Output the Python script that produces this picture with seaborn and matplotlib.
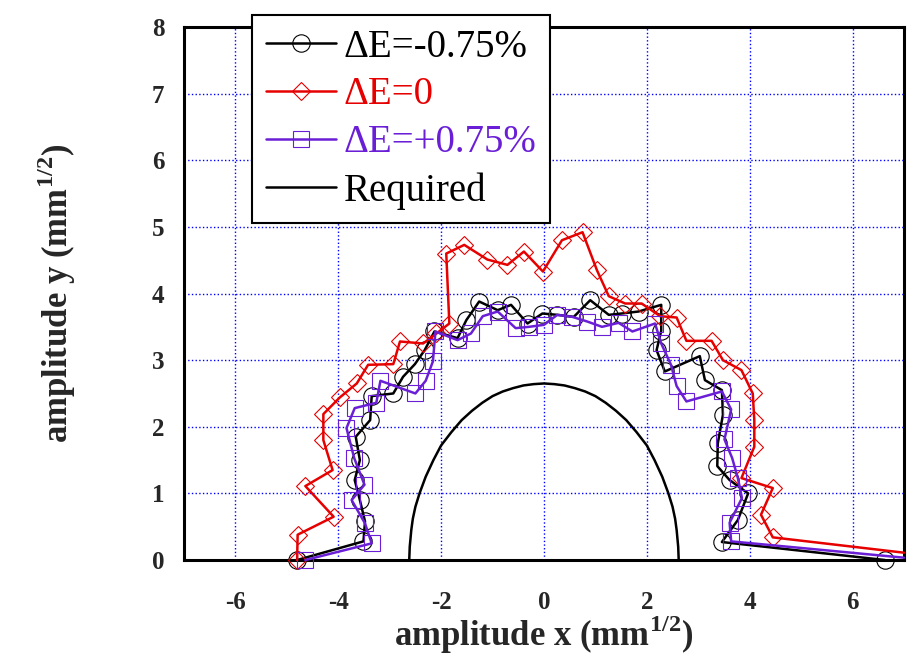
import seaborn as sns
import matplotlib.pyplot as plt

# ΔE=-0.75% (black, circles)
neg_x = [-4.80, -3.51, -3.48, -3.58, -3.68, -3.58, -3.66, -3.38, -3.35, -2.93, -2.74,
         -2.51, -2.32, -2.13, -1.68, -1.51, -1.26, -0.90, -0.64, -0.32, -0.03, 0.26,
         0.58, 0.90, 1.26, 1.51, 1.84, 2.28, 2.28, 2.19, 2.35, 3.03, 3.13, 3.46,
         3.48, 3.38, 3.37, 3.61, 3.97, 3.77, 3.46, 6.63]
neg_y = [0.00, 0.28, 0.58, 0.90, 1.20, 1.50, 1.85, 2.10, 2.46, 2.50, 2.75,
         2.94, 3.15, 3.43, 3.33, 3.60, 3.88, 3.75, 3.83, 3.55, 3.70, 3.68,
         3.65, 3.90, 3.68, 3.70, 3.73, 3.83, 3.44, 3.15, 2.83, 3.06, 2.70, 2.55,
         2.18, 1.75, 1.41, 1.20, 1.00, 0.60, 0.27, 0.00]

# ΔE=0 (red, diamonds)
zero_x = [-4.80, -4.79, -4.09, -4.64, -4.11, -4.29, -4.29, -3.97, -3.64, -3.42, -2.93,
          -2.80, -2.35, -2.09, -1.84, -1.90, -1.55, -1.10, -0.71, -0.39, -0.02, 0.35,
          0.75, 1.03, 1.26, 1.58, 1.90, 2.26, 2.58, 2.77, 3.26, 3.48, 3.84, 4.06,
          4.09, 4.09, 3.84, 4.45, 4.22, 4.45, 7.00]
zero_y = [0.00, 0.38, 0.65, 1.11, 1.35, 1.80, 2.19, 2.44, 2.65, 2.93, 2.94,
          3.28, 3.25, 3.40, 3.55, 4.60, 4.73, 4.51, 4.43, 4.63, 4.33, 4.80,
          4.92, 4.35, 3.96, 3.85, 3.85, 3.66, 3.64, 3.29, 3.29, 3.00, 2.85, 2.50,
          2.10, 1.70, 1.23, 1.08, 0.68, 0.34, 0.11]

# ΔE=+0.75% (purple, squares)
pos_x = [-4.64, -3.35, -3.48, -3.74, -3.49, -3.69, -3.84, -3.68, -3.26, -3.18, -2.50,
         -2.30, -2.16, -2.11, -1.68, -1.42, -1.19, -0.90, -0.55, -0.29, 0.00, 0.26,
         0.55, 0.84, 1.13, 1.45, 1.72, 2.16, 2.28, 2.47, 2.58, 2.77, 3.46, 3.64,
         3.51, 3.66, 3.77, 3.85, 3.61, 3.64, 7.00]
pos_y = [0.00, 0.25, 0.55, 0.90, 1.13, 1.53, 1.98, 2.28, 2.36, 2.69, 2.50,
         2.69, 2.98, 3.43, 3.30, 3.40, 3.66, 3.73, 3.48, 3.50, 3.53, 3.68,
         3.65, 3.58, 3.50, 3.56, 3.43, 3.55, 3.25, 2.93, 2.61, 2.38, 2.53, 2.26,
         1.81, 1.53, 1.23, 0.93, 0.56, 0.28, 0.035]

# Required aperture
req_x = [-2.62, -2.61, -2.58, -2.55, -2.50, -2.42, -2.30, -2.15, -2.00, -1.80, -1.60,
         -1.40, -1.20, -1.00, -0.80, -0.60, -0.40, -0.20, 0.00, 0.20, 0.40, 0.60,
         0.80, 1.00, 1.20, 1.40, 1.60, 1.80, 2.00, 2.15, 2.30, 2.42, 2.50, 2.55,
         2.58, 2.61, 2.62]
req_y = [0.00, 0.20, 0.45, 0.62, 0.80, 1.00, 1.25, 1.50, 1.72, 1.92, 2.10,
         2.24, 2.36, 2.46, 2.53, 2.58, 2.62, 2.64, 2.65, 2.64, 2.62, 2.58,
         2.53, 2.46, 2.36, 2.24, 2.10, 1.92, 1.72, 1.50, 1.25, 1.00, 0.80, 0.62,
         0.45, 0.20, 0.00]

labels = ['ΔE=-0.75%', 'ΔE=0', 'ΔE=+0.75%', 'Required']
colors = ['black', '#E60000', '#6A1FD6', 'black']
x_ticks = [-6, -4, -2, 0, 2, 4, 6]
y_ticks = [0, 1, 2, 3, 4, 5, 6, 7, 8]

sns.set_theme(style='white')
plt.rcParams['font.family'] = ['Liberation Serif', 'DejaVu Serif']
plt.rcParams['mathtext.fontset'] = 'custom'
plt.rcParams['mathtext.rm'] = 'Liberation Serif:bold'
plt.rcParams['mathtext.bf'] = 'Liberation Serif:bold'

fig = plt.figure(figsize=(9.14, 6.64), dpi=100)
ax = fig.add_axes([0.2013, 0.1566, 0.7877, 0.8027])

series = [(neg_x, neg_y, 'o', 12.5), (zero_x, zero_y, 'D', 9.5), (pos_x, pos_y, 's', 11.5)]
for (xs, ys, mk, ms), lab, col in zip(series, labels, colors):
    n = len(xs)
    # last point sits on the frame edge, no marker there
    every = list(range(n)) if xs[-1] < 7 else list(range(n - 1))
    sns.lineplot(x=xs, y=ys, sort=False, estimator=None, ax=ax, color=col,
                 linewidth=1.8, marker=mk, markersize=ms, markerfacecolor='none',
                 markeredgecolor=col, markeredgewidth=0.8, markevery=every,
                 clip_on=False, label=lab, zorder=3)

sns.lineplot(x=req_x, y=req_y, sort=False, estimator=None, ax=ax, color='black',
             linewidth=1.8, label=labels[3], zorder=3)

ax.set_xlim(-7, 7)
ax.set_ylim(0, 8)
ax.set_xticks(x_ticks)
ax.set_yticks(y_ticks)
ax.set_xticklabels([str(t) for t in x_ticks], fontsize=18, fontweight='bold')
ax.set_yticklabels([str(t) for t in y_ticks], fontsize=18, fontweight='bold')
ax.tick_params(axis='x', length=0, pad=22)
ax.tick_params(axis='y', length=0, pad=14)
ax.grid(True, color='blue', linestyle=':', linewidth=1.0)
ax.set_axisbelow(True)
for sp in ax.spines.values():
    sp.set_color('black')
    sp.set_linewidth(2.2)

ax.set_xlabel(r'amplitude x (mm$^{\mathbf{1/2}}$)', fontsize=25, fontweight='bold')
ax.set_ylabel(r'amplitude y (mm$^{\mathbf{1/2}}$)', fontsize=25, fontweight='bold')
ax.xaxis.set_label_coords(0.5, -0.100)
ax.xaxis.label.set_va('top')
ax.yaxis.set_label_coords(-0.147, 0.5)

leg = ax.legend(loc='upper left', bbox_to_anchor=(252 / 914, 1 - 15 / 664),
                bbox_transform=fig.transFigure, borderaxespad=0, fontsize=28,
                handlelength=1.8, handletextpad=0.2, labelspacing=0.28,
                borderpad=0.35, fancybox=False, framealpha=1,
                edgecolor='black', labelcolor='linecolor')
leg.get_frame().set_linewidth(1.5)
leg.set_zorder(5)

fig.savefig('out.png', dpi=100)
